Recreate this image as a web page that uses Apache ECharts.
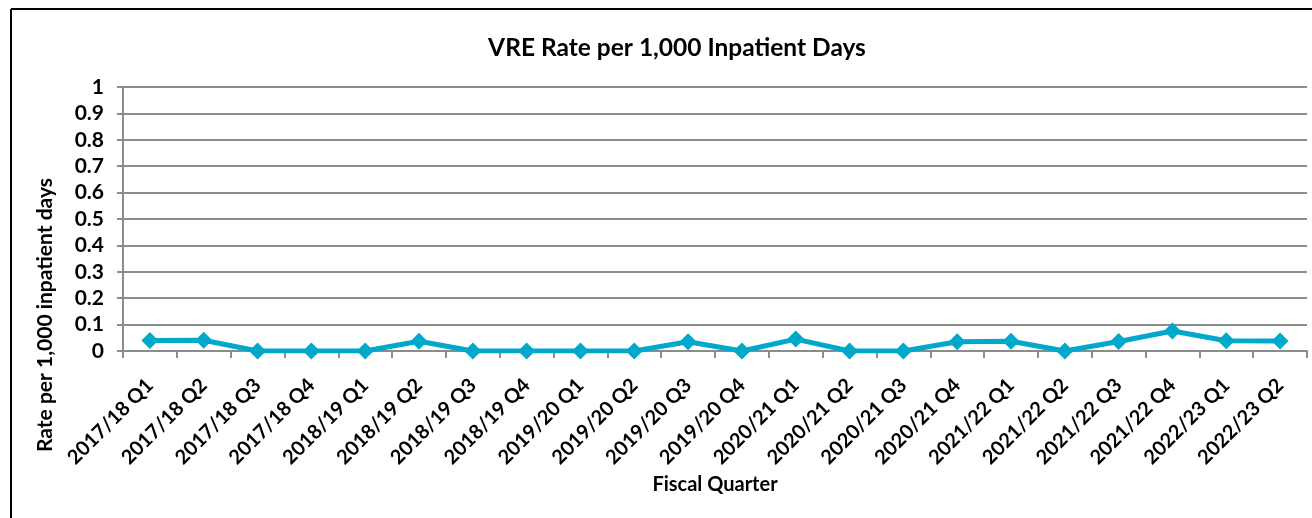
<!DOCTYPE html>
<html>
<head>
<meta charset="utf-8">
<script src="https://cdn.jsdelivr.net/npm/echarts@6/dist/echarts.min.js"></script>
<style>
  html, body { margin: 0; padding: 0; background: #fff; }
  #chart { width: 1312px; height: 518px; }
</style>
</head>
<body>
<div id="chart"></div>
<script>
// quarters along the x axis
var quarters = [
  "2017/18 Q1", "2017/18 Q2", "2017/18 Q3", "2017/18 Q4",
  "2018/19 Q1", "2018/19 Q2", "2018/19 Q3", "2018/19 Q4",
  "2019/20 Q1", "2019/20 Q2", "2019/20 Q3", "2019/20 Q4",
  "2020/21 Q1", "2020/21 Q2", "2020/21 Q3", "2020/21 Q4",
  "2021/22 Q1", "2021/22 Q2", "2021/22 Q3", "2021/22 Q4",
  "2022/23 Q1", "2022/23 Q2"
];
// VRE rate per 1,000 inpatient days
var vreRate = [
  0.040, 0.041, 0, 0,
  0, 0.037, 0, 0,
  0, 0, 0.035, 0,
  0.045, 0, 0, 0.035,
  0.037, 0, 0.036, 0.076,
  0.039, 0.038
];

var font = "Lato, 'Open Sans', sans-serif";
var myChart = echarts.init(document.getElementById("chart"));

var option = {
  backgroundColor: "#fff",
  animation: false,
  title: {
    text: "VRE Rate per 1,000 Inpatient Days",
    left: 672,
    top: 31,
    textAlign: "center",
    textStyle: { fontFamily: font, fontWeight: "bold", fontSize: 24.5, color: "#000" }
  },
  graphic: [
    // chart frame (only top and left edges are in view)
    { type: "line", shape: { x1: 11, y1: 9, x2: 1312, y2: 9 }, style: { stroke: "#000", lineWidth: 2 } },
    { type: "line", shape: { x1: 11, y1: 9, x2: 11, y2: 518 }, style: { stroke: "#000", lineWidth: 2 } },
    // y axis title, Excel centres it lower than the axis middle
    {
      type: "text",
      x: 45,
      y: 315,
      rotation: Math.PI / 2,
      style: {
        text: "Rate per 1,000 inpatient days",
        align: "center",
        verticalAlign: "middle",
        fontFamily: font,
        fontWeight: "bold",
        fontSize: 21,
        fill: "#000"
      }
    }
  ],
  grid: { left: 123, right: 5, top: 87, bottom: 167 },
  xAxis: {
    type: "category",
    data: quarters,
    boundaryGap: true,
    name: "Fiscal Quarter",
    nameLocation: "middle",
    nameGap: 124,
    nameTextStyle: { fontFamily: font, fontWeight: "bold", fontSize: 20, color: "#000" },
    axisLine: { lineStyle: { color: "#8c8c8c", width: 2 } },
    axisTick: { show: true, length: 7, lineStyle: { color: "#8c8c8c", width: 2 } },
    axisLabel: {
      rotate: 45,
      interval: 0,
      margin: 31,
      fontFamily: font,
      fontWeight: "bold",
      fontSize: 20,
      color: "#000"
    },
    splitLine: { show: false }
  },
  yAxis: {
    type: "value",
    min: 0,
    max: 1,
    interval: 0.1,
    axisLine: { show: true, lineStyle: { color: "#8c8c8c", width: 2 } },
    axisTick: { show: true, length: 6, lineStyle: { color: "#8c8c8c", width: 2 } },
    axisLabel: {
      margin: 19,
      fontFamily: font,
      fontWeight: "bold",
      fontSize: 21,
      color: "#000",
      formatter: function (v) { return String(Math.round(v * 10) / 10); }
    },
    splitLine: { show: true, lineStyle: { color: "#8c8c8c", width: 2 } }
  },
  series: [
    {
      name: "VRE Rate",
      type: "line",
      data: vreRate,
      symbol: "diamond",
      symbolSize: 17,
      lineStyle: { color: "#00A8CB", width: 5 },
      itemStyle: { color: "#00A8CB" }
    }
  ]
};

myChart.setOption(option);
</script>
</body>
</html>
